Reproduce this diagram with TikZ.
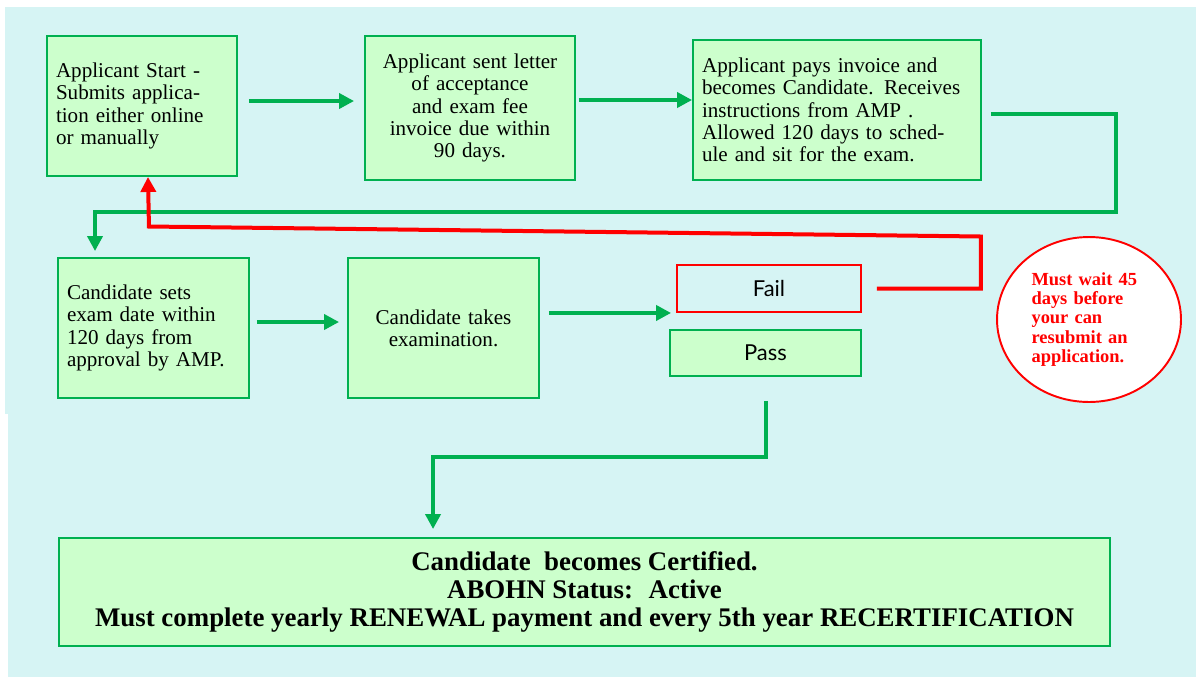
\documentclass[tikz,border=0pt]{standalone}
\usepackage{fontspec}
\setmainfont{Liberation Serif}
\newfontfamily\resultfont{Lato}
\usetikzlibrary{arrows.meta,shapes.geometric}
\definecolor{pagecyan}{HTML}{D6F4F4}
\definecolor{boxfill}{HTML}{CCFFCC}
\definecolor{flowgreen}{HTML}{00B050}
\definecolor{failred}{HTML}{FF0000}
\begin{document}
\begin{tikzpicture}[x=0.02cm, y=-0.02cm,
        box/.style={draw=flowgreen, fill=boxfill, line width=1.1pt, inner xsep=0.18cm,
            font=\fontsize{12}{12.7}\selectfont},
        result/.style={box, minimum width=3.82cm, minimum height=0.92cm, font=\resultfont\fontsize{12.5}{14}\selectfont},
        flow/.style={draw=flowgreen, line width=0.08cm, -{Triangle[length=0.3cm,width=0.3cm]}},
        back/.style={draw=failred, line width=0.08cm, -{Triangle[length=0.3cm,width=0.3cm]}}]
    \useasboundingbox (0,0) rectangle (1196,677);
    \fill[pagecyan] (5,7) rectangle (1196,414);
    \fill[pagecyan] (8,414) rectangle (1196,677);

    % first row
    \node[box, text width=3.44cm, minimum height=2.8cm, align=left] (a1) at (142,106)
        {Applicant Start -\\Submits applica-\\tion either online\\or manually};
    \node[box, text width=3.84cm, minimum height=2.88cm, align=center] (a2) at (470,108)
        {Applicant sent letter\\of acceptance\\and exam fee\\invoice due within\\90 days.};
    \node[box, text width=5.4cm, minimum height=2.8cm, align=left] (a3) at (837,110)
        {Applicant pays invoice and\\becomes Candidate. Receives\\instructions from AMP .\\Allowed 120 days to sched-\\ule and sit for the exam.};

    % second row
    \node[box, text width=3.46cm, minimum height=2.8cm, align=left] (b1) at (153.5,328)
        {Candidate sets\\exam date within\\120 days from\\approval by AMP.};
    \node[box, text width=3.46cm, minimum height=2.8cm, align=center] (b2) at (443.5,328)
        {Candidate takes\\examination.};
    \node[result, draw=failred, fill=none, minimum width=3.68cm, minimum height=0.94cm] (fail) at (769,288.5) {Fail};
    \node[result] (pass) at (765.5,353) {Pass};
    \node[ellipse, draw=failred, fill=white, line width=1.1pt, minimum width=3.68cm, minimum height=3.3cm,
        text width=2.3cm, align=left, text=failred, font=\bfseries\fontsize{10.5}{10.9}\selectfont] (wait) at (1089,319.5)
        {Must wait 45\\days before\\your can\\resubmit an\\application.};

    % result
    \node[box, minimum width=21.02cm, minimum height=2.16cm, align=center,
        font=\bfseries\fontsize{15.3}{15.9}\selectfont] (cert) at (584.5,592)
        {Candidate \ becomes Certified.\\ABOHN Status: \ Active\\Must complete yearly RENEWAL payment and every 5th year RECERTIFICATION};

    \draw[flow] ([xshift=.22cm,yshift=.1cm]a1.east) -- ([xshift=-.2cm,yshift=.1cm]a1.east -| a2.west);
    \draw[flow] ([xshift=.06cm,yshift=.16cm]a2.east) -- ([yshift=.16cm]a2.east -| a3.west);
    \draw[flow] ([xshift=.18cm,yshift=-.08cm]a3.east) -- ++(125,0) -- ++(0,98)
        -| ([xshift=-1.17cm,yshift=.12cm]b1.north);
    \draw[flow] ([xshift=.14cm,yshift=.12cm]b1.east) -- ([xshift=-.16cm,yshift=.12cm]b1.east -| b2.west);
    \draw[flow] ([xshift=.18cm]b2.east |- fail.south west) -- ([xshift=-.1cm]fail.south west);
    \draw[back] ([xshift=.3cm]fail.east) -- ++(104,0) -- ++(0,-52) -- ++(-832,-10)
        -- ([xshift=.12cm]a1.south);
    \draw[flow] ([yshift=-.48cm]pass.south) -- ++(0,56) -| ([xshift=-3.03cm,yshift=.16cm]cert.north);
\end{tikzpicture}
\end{document}
